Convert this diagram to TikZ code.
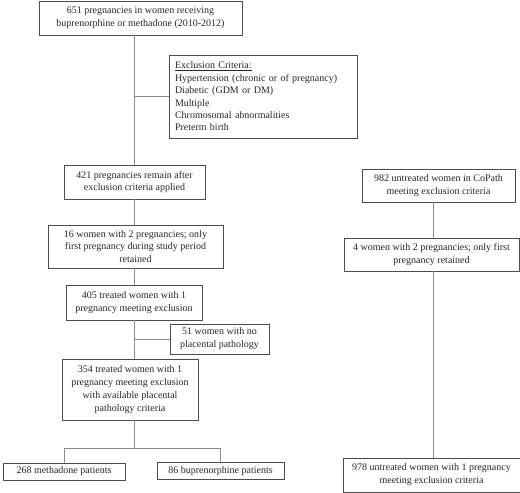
\documentclass[tikz,border=0pt]{standalone}
\usepackage{fontspec}
\setmainfont{Liberation Serif}
\begin{document}
\begin{tikzpicture}[x=1pt,y=-1pt,
  box/.style={draw=black!70, line width=0.8pt, rectangle, inner sep=0pt, align=center,
    font=\fontsize{10}{12.8}\selectfont, text=black!85},
  conn/.style={draw=black!45, line width=0.8pt}]
\useasboundingbox (0,0) rectangle (520,493);
\node[box, minimum width=203, minimum height=34] (b1) at (140.5,18) {651 pregnancies in women receiving\\buprenorphine or methadone (2010-2012)};
\node[box, minimum width=188, minimum height=83, text width=176, align=left, font=\fontsize{10}{12.4}\selectfont] (excl) at (263,96.5) {\underline{Exclusion Criteria:}\\Hypertension (chronic or of pregnancy)\\Diabetic (GDM or DM)\\Multiple\\Chromosomal abnormalities\\Preterm birth};
\node[box, minimum width=141, minimum height=34] (b421) at (134.5,182) {421 pregnancies remain after\\exclusion criteria applied};
\node[box, minimum width=175, minimum height=43] (b16) at (135.5,246.5) {16 women with 2 pregnancies; only\\first pregnancy during study period\\retained};
\node[box, minimum width=136, minimum height=35] (b405) at (134,302.5) {405 treated women with 1\\pregnancy meeting exclusion};
\node[box, minimum width=99, minimum height=30] (b51) at (219.5,339) {51 women with no\\placental pathology};
\node[box, minimum width=136, minimum height=61] (b354) at (130,389.5) {354 treated women with 1\\pregnancy meeting exclusion\\with available placental\\pathology criteria};
\node[box, minimum width=122, minimum height=17] (b268) at (64,471.5) {268 methadone patients};
\node[box, minimum width=127, minimum height=17] (b86) at (220.5,471) {86 buprenorphine patients};
\node[box, minimum width=153, minimum height=33] (b982) at (438.5,185.5) {982 untreated women in CoPath\\meeting exclusion criteria};
\node[box, minimum width=175, minimum height=33] (b4) at (431.5,254.5) {4 women with 2 pregnancies; only first\\pregnancy retained};
\node[box, minimum width=177, minimum height=34] (b978) at (431.5,475) {978 untreated women with 1 pregnancy\\meeting exclusion criteria};
\coordinate (split) at (134,448);
\coordinate (rx) at (433,0);
% left trunk
\draw[conn] (b1.south -| split) -- (b421.north -| split);
\draw[conn] (excl.west) -- (excl.west -| split);
\draw[conn] (b421.south -| split) -- (b16.north -| split);
\draw[conn] (b16.south -| split) -- (b405.north -| split);
\draw[conn] (b405.south -| split) -- (b354.north -| split);
\draw[conn] (b51.west) -- (b51.west -| split);
\draw[conn] (b354.south -| split) -- (split);
\draw[conn] (b268.north) -- (b268.north |- split) -- (split -| b86.north) -- (b86.north);
% right trunk
\draw[conn] (b982.south -| rx) -- (b4.north -| rx);
\draw[conn] (b4.south -| rx) -- (b978.north -| rx);
\end{tikzpicture}
\end{document}
